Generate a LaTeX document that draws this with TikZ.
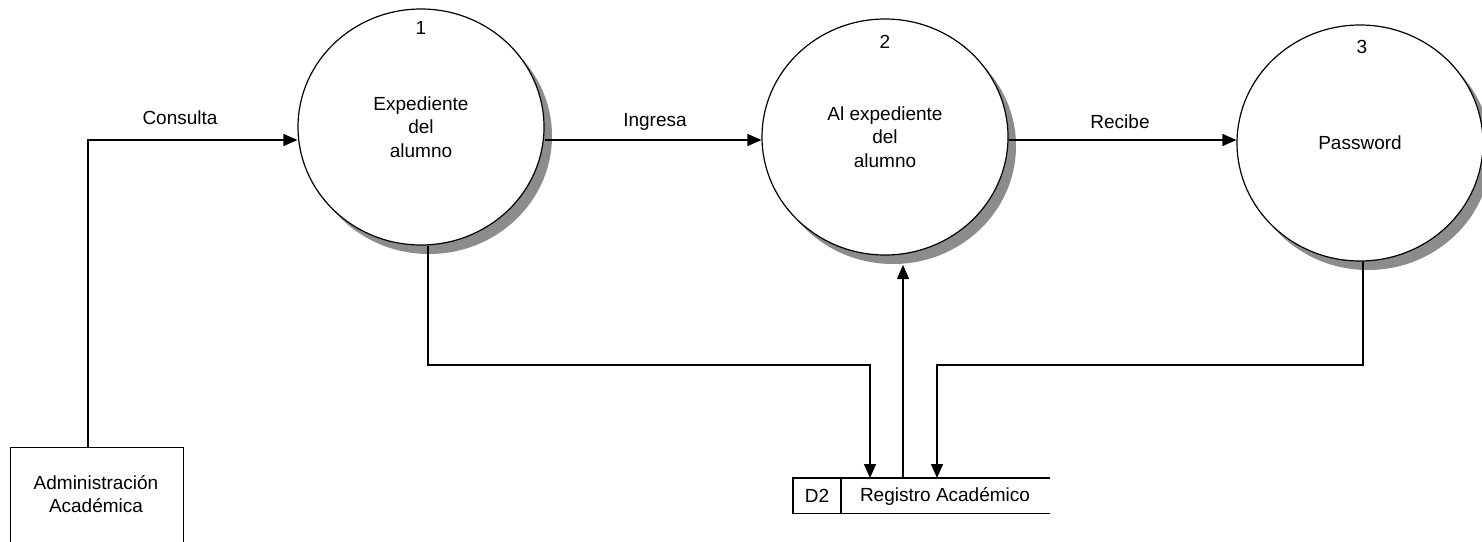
\documentclass[tikz,border=0pt]{standalone}
\usepackage{fontspec}
\setmainfont{Liberation Sans}
\usetikzlibrary{arrows.meta,shapes.geometric,shadows}
\begin{document}
\begin{tikzpicture}[x=1pt,y=-1pt,
  every node/.style={font=\fontsize{19}{23.5}\selectfont},
  proc/.style={ellipse, draw, line width=1.2pt, fill=white, minimum width=246pt, minimum height=236pt, inner sep=0pt, align=center,
    drop shadow={shadow xshift=8pt, shadow yshift=-9pt, fill=black!45, opacity=1}},
  flow/.style={line width=1.3pt, -{Triangle[length=14pt,width=12pt]}},
  lbl/.style={align=center, inner sep=0pt},
  box/.style={draw, line width=1.2pt, inner sep=0pt, anchor=north west},
]
\path[fill=white, use as bounding box] (0,0) rectangle (1482,541);

% processes
\node[proc] (c1) at (421,127) {Expediente\\del\\alumno};
\node[proc] (c2) at (885,137) {Al expediente\\del\\alumno};
\node[proc] (c3) at (1360,143) {Password};
\node[lbl] (n1) at (421,28) {1};
\node[lbl] (n2) at (885,42) {2};
\node[lbl] (n3) at (1362,47) {3};

% external entity
\node[box, minimum width=173pt, minimum height=130pt] (ent) at (10,447) {};
\node[lbl] (entt) at (96,494) {Administración\\Académica};

% data store
\node[inner sep=0pt, anchor=north west, minimum width=257pt, minimum height=35pt] (ds) at (793,478) {};
\draw[line width=1.2pt] (ds.north east) -- (ds.north west) -- (ds.south west) -- (ds.south east);
\draw[line width=1.2pt] ([xshift=48pt]ds.north west) -- ([xshift=48pt]ds.south west);
\node[lbl] (dsid) at (817,496) {D2};
\node[lbl] (dsname) at (945,496) {Registro Académico};

% coordinates
\coordinate (entTop) at (88,447);
\coordinate (j1) at (870,365);
\coordinate (dsin1) at (870,478);
\coordinate (dsout) at (903,478);
\coordinate (c2in) at (903,265);
\coordinate (j3) at (937,365);
\coordinate (dsin3) at (937,478);

% flows
\draw[flow] (entTop) |- ([yshift=-13pt]c1.west);
\draw[flow] ([yshift=-13pt]c1.east) -- ([yshift=-3pt]c2.west);
\draw[flow] ([yshift=-3pt]c2.east) -- ([yshift=3pt]c3.west);
\draw[flow] ([xshift=7pt]c1.south) |- (j1) -- (dsin1);
\draw[flow] (dsout) -- (c2in);
\draw[flow] ([xshift=3pt]c3.south) |- (j3) -- (dsin3);

% labels
\node[lbl] (lc) at (180,118) {Consulta};
\node[lbl] (li) at (655,122) {Ingresa};
\node[lbl] (lr) at (1120,122) {Recibe};
\end{tikzpicture}
\end{document}
